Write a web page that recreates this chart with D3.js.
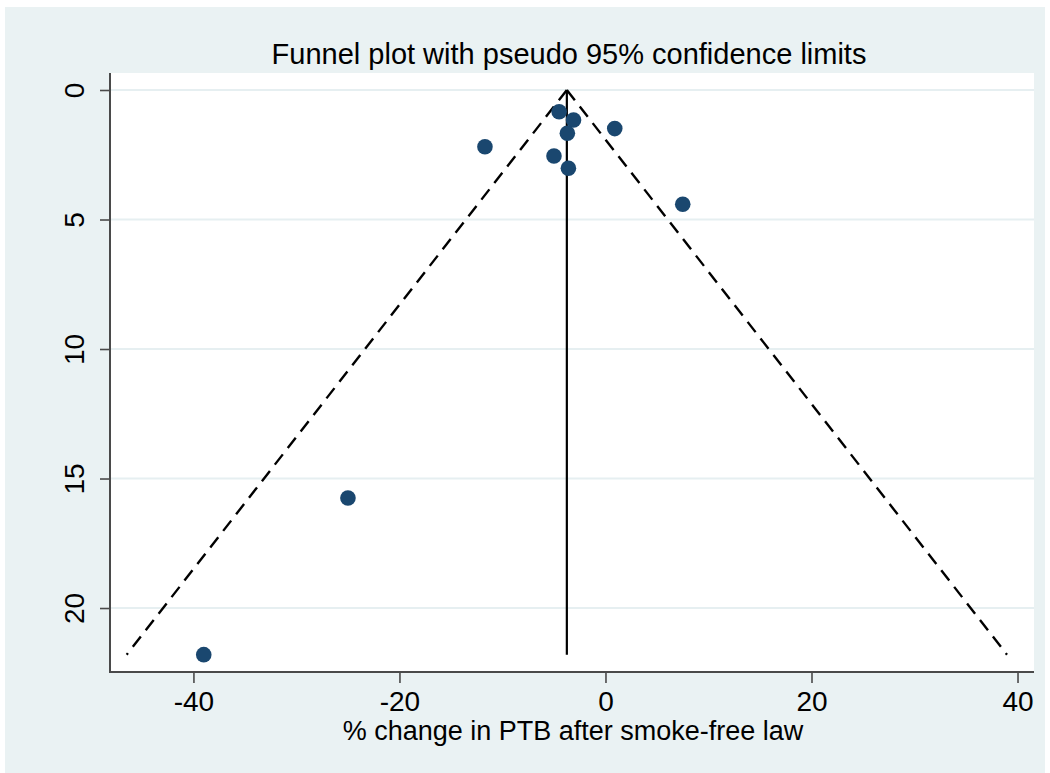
<!DOCTYPE html>
<html>
<head>
<meta charset="utf-8">
<script src="https://cdn.jsdelivr.net/npm/d3@7"></script>
<style>
  html, body { margin: 0; padding: 0; background: #ffffff; }
  svg { display: block; }
  text { font-family: "Liberation Sans", Arial, sans-serif; fill: #000; }
</style>
</head>
<body>
<svg id="chart" width="1050" height="773"></svg>
<script>
// Study estimates: % change in preterm birth and its standard error
const effects = [-4.5, -3.1, -3.7, 0.9, -11.7, -5.0, -3.6, 7.5, -25.0, -39.0];
const stdErrors = [0.84, 1.16, 1.67, 1.49, 2.19, 2.55, 3.02, 4.41, 15.75, 21.8];

// Pooled (fixed-effect) estimate and the pseudo 95% limits
const pooled = -3.75;
const zCrit = 1.96;

const xTicks = [-40, -20, 0, 20, 40];
const yTicks = [0, 5, 10, 15, 20];

const titleText = "Funnel plot with pseudo 95% confidence limits";
const xLabel = "% change in PTB after smoke-free law";

const svg = d3.select("#chart");
const W = 1050, H = 773;
const plot = { left: 110, right: 1034, top: 73, bottom: 672 };

// outer graph region
svg.append("rect")
  .attr("x", 5).attr("y", 7)
  .attr("width", 1040).attr("height", H - 7)
  .attr("fill", "#EAF2F3");

// plot region
svg.append("rect")
  .attr("x", plot.left).attr("y", plot.top)
  .attr("width", plot.right - plot.left).attr("height", plot.bottom - plot.top)
  .attr("fill", "#ffffff");

const x = d3.scaleLinear().domain([-48.1, 41.6]).range([plot.left, plot.right]);
const y = d3.scaleLinear().domain([0, 22.47]).range([90, plot.bottom]);

// horizontal grid lines
svg.append("g").selectAll("line").data(yTicks).join("line")
  .attr("x1", plot.left + 1).attr("x2", plot.right)
  .attr("y1", d => y(d)).attr("y2", d => y(d))
  .attr("stroke", "#E6EFF1").attr("stroke-width", 1.8);

const seMax = d3.max(stdErrors);

// funnel limits
const limits = [
  [[pooled, 0], [pooled - zCrit * seMax, seMax]],
  [[pooled, 0], [pooled + zCrit * seMax, seMax]]
];
const line = d3.line().x(d => x(d[0])).y(d => y(d[1]));
svg.append("g").selectAll("path").data(limits).join("path")
  .attr("d", line)
  .attr("fill", "none")
  .attr("stroke", "#000")
  .attr("stroke-width", 2.4)
  .attr("stroke-dasharray", "13,8");

// pooled estimate line
svg.append("path")
  .attr("d", line([[pooled, 0], [pooled, seMax]]))
  .attr("stroke", "#000").attr("stroke-width", 2.2).attr("fill", "none");

// studies
svg.append("g").selectAll("circle").data(effects.map((e, i) => [e, stdErrors[i]])).join("circle")
  .attr("cx", d => x(d[0])).attr("cy", d => y(d[1]))
  .attr("r", 7.8)
  .attr("fill", "#1A476F");

// axes
const axisColor = "#4a4a4a";
const gy = svg.append("g").attr("transform", `translate(${plot.left},0)`)
  .call(d3.axisLeft(y).tickValues(yTicks).tickSize(10).tickFormat(d3.format("d")));
const gx = svg.append("g").attr("transform", `translate(0,${plot.bottom})`)
  .call(d3.axisBottom(x).tickValues(xTicks).tickSize(11).tickFormat(d3.format("d")));

[gx, gy].forEach(g => {
  g.select(".domain").remove();
  g.selectAll(".tick line").attr("stroke", axisColor).attr("stroke-width", 1.6);
  g.selectAll("text").attr("font-size", 28).attr("font-family", "Liberation Sans, Arial, sans-serif").attr("fill", "#000");
});
// tick labels use plain hyphen minus
gx.selectAll(".tick text").text(d => String(d)).attr("y", 39).attr("dy", 0);

// y tick labels rotated
gy.selectAll(".tick text")
  .attr("transform", "rotate(-90)")
  .attr("x", 0).attr("y", -26)
  .attr("dy", 0)
  .attr("text-anchor", "middle");

// axis lines
svg.append("line")
  .attr("x1", plot.left).attr("x2", plot.left)
  .attr("y1", plot.top).attr("y2", plot.bottom + 1)
  .attr("stroke", axisColor).attr("stroke-width", 2);
svg.append("line")
  .attr("x1", plot.left).attr("x2", plot.right)
  .attr("y1", plot.bottom).attr("y2", plot.bottom)
  .attr("stroke", axisColor).attr("stroke-width", 2);

// title and axis label
svg.append("text")
  .attr("x", 569).attr("y", 64)
  .attr("text-anchor", "middle").attr("font-size", 29)
  .text(titleText);

svg.append("text")
  .attr("x", 573).attr("y", 740)
  .attr("text-anchor", "middle").attr("font-size", 27)
  .text(xLabel);
</script>
</body>
</html>
